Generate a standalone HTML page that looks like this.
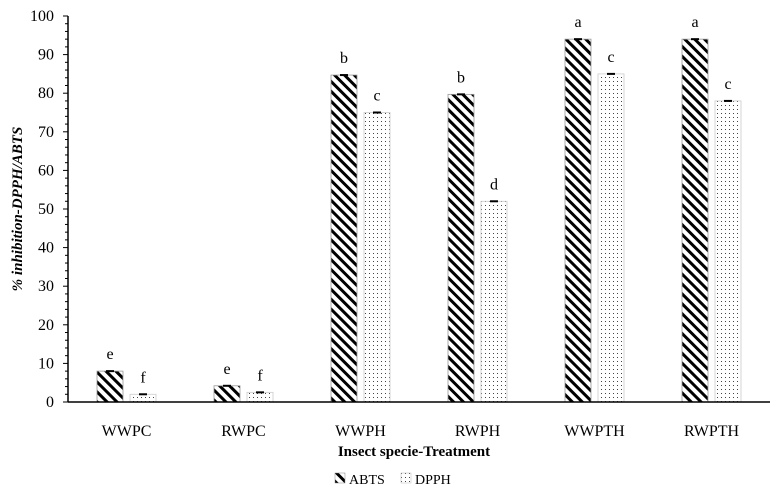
<!DOCTYPE html>
<html><head><meta charset="utf-8"><style>
body{margin:0;background:#fff}
svg text{font-family:"Liberation Serif",serif;fill:#000}
</style></head><body>
<svg id="chart" width="776" height="494" viewBox="0 0 776 494" xmlns="http://www.w3.org/2000/svg">
<defs>
<pattern id="diag" patternUnits="userSpaceOnUse" width="7" height="7" patternTransform="rotate(-45)">
<rect width="7" height="7" fill="#fff"/><rect x="0" y="0" width="3" height="7" fill="#000"/>
</pattern>
<pattern id="dots" patternUnits="userSpaceOnUse" width="4" height="4">
<rect width="4" height="4" fill="#fff"/><rect x="1" y="1" width="1" height="1" fill="#444"/>
</pattern>
</defs>
<g id="plot"></g>
<text transform="translate(22,209) rotate(-90)" text-anchor="middle" font-size="15" font-weight="bold" font-style="italic">% inhibition-DPPH/ABTS</text>
<text x="414" y="456" text-anchor="middle" font-size="15" font-weight="bold">Insect specie-Treatment</text>
<g>
<g><rect x="335" y="473" width="10" height="10" fill="url(#diag)" stroke="#888" stroke-width="0.5"/><text x="349" y="484" font-size="14">ABTS</text></g>
<g><rect x="401" y="473" width="10" height="10" fill="url(#dots)" stroke="#bbb" stroke-width="0.5"/><text x="415" y="484" font-size="14">DPPH</text></g>
</g>
</svg>
<script>
const categories=["WWPC","RWPC","WWPH","RWPH","WWPTH","RWPTH"];
const abts=[8,4.2,84.7,79.7,94,94];
const dpph=[2,2.5,75,52,85,78];
const abtsLetters=["e","e","b","b","a","a"];
const dpphLetters=["f","f","c","d","c","c"];
const yTicks=[0,10,20,30,40,50,60,70,80,90,100];
const NS="http://www.w3.org/2000/svg";
const g=document.getElementById('plot');
const x0=68,x1=770,yb=402,yt=16;
const y=v=>yb-(v/100)*(yb-yt);
const bw=(x1-x0)/categories.length;
const cx=i=>x0+bw*(i+0.5);
function mk(t,a){const e=document.createElementNS(NS,t);for(const k in a)e.setAttribute(k,a[k]);g.appendChild(e);return e;}
for(let v=0;v<=100;v+=2){const e=mk('line',{x1:x0-(v%10===0?5:3),x2:x0,y1:y(v),y2:y(v),stroke:'#000','stroke-width':1});

}
yTicks.forEach(v=>{const t=mk('text',{x:x0-14,y:y(v)+5,'text-anchor':'end','font-size':16});t.textContent=v;

});
const ya=mk('line',{x1:x0,x2:x0,y1:yt,y2:yb,stroke:'#000','stroke-width':1.5});


categories.forEach((c,i)=>{
 const w=26,gap=7;
 const xa=cx(i)-gap/2-w, xd=cx(i)+gap/2;
 const ra=mk('rect',{x:xa,y:y(abts[i]),width:w,height:yb-y(abts[i]),fill:'url(#diag)',stroke:'#999','stroke-width':0.8});
 
 
 const rd=mk('rect',{x:xd,y:y(dpph[i]),width:w,height:yb-y(dpph[i]),fill:'url(#dots)',stroke:'#ccc','stroke-width':0.8});
 
 
 [[xa,abts[i]],[xd,dpph[i]]].forEach(([xx,v])=>{const e=mk('line',{x1:xx+w/2-4,x2:xx+w/2+4,y1:y(v),y2:y(v),stroke:'#000','stroke-width':2});
  
  });
 const la=mk('text',{x:xa+w/2,y:y(abts[i])-12,'text-anchor':'middle','font-size':16});la.textContent=abtsLetters[i];
 
 
 const ld=mk('text',{x:xd+w/2,y:y(dpph[i])-12,'text-anchor':'middle','font-size':16});ld.textContent=dpphLetters[i];
 
 
 const tl=mk('text',{x:cx(i),y:yb+34,'text-anchor':'middle','font-size':16});tl.textContent=c;
 
 
});
const xa=mk('line',{x1:x0,x2:x1,y1:yb,y2:yb,stroke:'#000','stroke-width':1.5});


</script>
</body></html>
